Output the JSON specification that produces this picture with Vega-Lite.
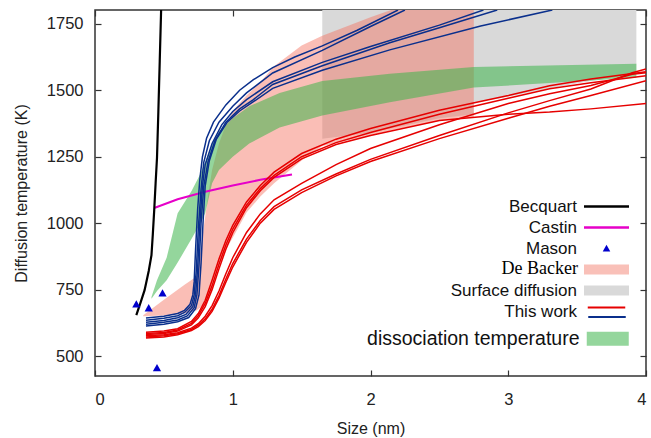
{
  "$schema": "https://vega.github.io/schema/vega-lite/v6.json",
  "width": 551,
  "height": 366,
  "autosize": "none",
  "padding": {"left": 95, "top": 10, "right": 5, "bottom": 62},
  "background": "white",
  "config": {
    "font": "Liberation Sans",
    "view": {"stroke": "#333333", "strokeWidth": 1.5},
    "axis": {
      "grid": false,
      "domain": false,
      "labelFont": "Liberation Sans",
      "labelFontSize": 16.5,
      "labelColor": "#222222",
      "tickColor": "#333333",
      "tickWidth": 1.2,
      "tickSize": -6,
      "titleFont": "Liberation Sans",
      "titleFontSize": 16,
      "titleFontWeight": "normal",
      "titleColor": "#222222"
    },
    "legend": {
      "orient": "none",
      "title": null,
      "padding": 0,
      "symbolSize": 225,
      "labelAlign": "right",
      "labelOffset": -38,
      "labelFont": "Liberation Sans",
      "labelFontSize": 17,
      "labelColor": "#111111",
      "labelLimit": 300,
      "rowPadding": 3,
      "symbolStrokeWidth": 0
    }
  },
  "datasets": {
    "bands": [
      {"band": "Surface diffusion", "size": 1.65, "lo": 1318, "hi": 1802},
      {"band": "Surface diffusion", "size": 2.0, "lo": 1340, "hi": 1802},
      {"band": "Surface diffusion", "size": 2.5, "lo": 1395, "hi": 1802},
      {"band": "Surface diffusion", "size": 2.749, "lo": 1410, "hi": 1802},
      {"band": "Surface diffusion", "size": 2.75, "lo": 1453, "hi": 1802},
      {"band": "Surface diffusion", "size": 3.0, "lo": 1476, "hi": 1802},
      {"band": "Surface diffusion", "size": 3.3, "lo": 1508, "hi": 1802},
      {"band": "Surface diffusion", "size": 3.6, "lo": 1535, "hi": 1802},
      {"band": "Surface diffusion", "size": 3.93, "lo": 1562, "hi": 1802},

      {"band": "De Backer", "size": 0.35, "lo": 650, "hi": 654},
      {"band": "De Backer", "size": 0.5, "lo": 653, "hi": 712},
      {"band": "De Backer", "size": 0.65, "lo": 660, "hi": 768},
      {"band": "De Backer", "size": 0.74, "lo": 672, "hi": 800},
      {"band": "De Backer", "size": 0.78, "lo": 688, "hi": 950},
      {"band": "De Backer", "size": 0.82, "lo": 725, "hi": 1100},
      {"band": "De Backer", "size": 0.85, "lo": 770, "hi": 1200},
      {"band": "De Backer", "size": 0.9, "lo": 840, "hi": 1300},
      {"band": "De Backer", "size": 0.95, "lo": 900, "hi": 1370},
      {"band": "De Backer", "size": 1.0, "lo": 945, "hi": 1420},
      {"band": "De Backer", "size": 1.03, "lo": 973, "hi": 1440},
      {"band": "De Backer", "size": 1.1, "lo": 1040, "hi": 1480},
      {"band": "De Backer", "size": 1.2, "lo": 1100, "hi": 1530},
      {"band": "De Backer", "size": 1.3, "lo": 1150, "hi": 1590},
      {"band": "De Backer", "size": 1.5, "lo": 1236, "hi": 1668},
      {"band": "De Backer", "size": 1.65, "lo": 1290, "hi": 1705},
      {"band": "De Backer", "size": 2.0, "lo": 1330, "hi": 1775},
      {"band": "De Backer", "size": 2.15, "lo": 1350, "hi": 1802},
      {"band": "De Backer", "size": 2.5, "lo": 1385, "hi": 1802},
      {"band": "De Backer", "size": 2.75, "lo": 1398, "hi": 1802},

      {"band": "dissociation temperature", "size": 0.41, "lo": 716, "hi": 722},
      {"band": "dissociation temperature", "size": 0.45, "lo": 745, "hi": 785},
      {"band": "dissociation temperature", "size": 0.52, "lo": 785, "hi": 870},
      {"band": "dissociation temperature", "size": 0.6, "lo": 852, "hi": 1037},
      {"band": "dissociation temperature", "size": 0.7, "lo": 940, "hi": 1120},
      {"band": "dissociation temperature", "size": 0.76, "lo": 995, "hi": 1180},
      {"band": "dissociation temperature", "size": 0.8, "lo": 1037, "hi": 1230},
      {"band": "dissociation temperature", "size": 0.85, "lo": 1150, "hi": 1300},
      {"band": "dissociation temperature", "size": 0.9, "lo": 1200, "hi": 1345},
      {"band": "dissociation temperature", "size": 1.0, "lo": 1250, "hi": 1395},
      {"band": "dissociation temperature", "size": 1.12, "lo": 1300, "hi": 1440},
      {"band": "dissociation temperature", "size": 1.34, "lo": 1360, "hi": 1490},
      {"band": "dissociation temperature", "size": 1.65, "lo": 1405, "hi": 1535},
      {"band": "dissociation temperature", "size": 2.14, "lo": 1455, "hi": 1562},
      {"band": "dissociation temperature", "size": 2.75, "lo": 1510, "hi": 1588},
      {"band": "dissociation temperature", "size": 3.93, "lo": 1547, "hi": 1600}
    ],
    "curves": [
      {"group": "Becquart", "curve": "K", "size": 0.30, "temp": 654},
      {"group": "Becquart", "curve": "K", "size": 0.33, "temp": 700},
      {"group": "Becquart", "curve": "K", "size": 0.36, "temp": 748},
      {"group": "Becquart", "curve": "K", "size": 0.39, "temp": 820},
      {"group": "Becquart", "curve": "K", "size": 0.41, "temp": 880},
      {"group": "Becquart", "curve": "K", "size": 0.42, "temp": 960},
      {"group": "Becquart", "curve": "K", "size": 0.43, "temp": 1050},
      {"group": "Becquart", "curve": "K", "size": 0.44, "temp": 1150},
      {"group": "Becquart", "curve": "K", "size": 0.45, "temp": 1245},
      {"group": "Becquart", "curve": "K", "size": 0.46, "temp": 1420},
      {"group": "Becquart", "curve": "K", "size": 0.47, "temp": 1610},
      {"group": "Becquart", "curve": "K", "size": 0.48, "temp": 1802},

      {"group": "Castin", "curve": "C", "size": 0.435, "temp": 1058},
      {"group": "Castin", "curve": "C", "size": 0.6, "temp": 1090},
      {"group": "Castin", "curve": "C", "size": 0.8, "temp": 1118},
      {"group": "Castin", "curve": "C", "size": 1.0, "temp": 1142},
      {"group": "Castin", "curve": "C", "size": 1.2, "temp": 1163},
      {"group": "Castin", "curve": "C", "size": 1.43, "temp": 1183},

      {"group": "red", "curve": "R1", "size": 0.37, "temp": 590},
      {"group": "red", "curve": "R1", "size": 0.5, "temp": 594},
      {"group": "red", "curve": "R1", "size": 0.6, "temp": 603},
      {"group": "red", "curve": "R1", "size": 0.7, "temp": 630},
      {"group": "red", "curve": "R1", "size": 0.75, "temp": 660},
      {"group": "red", "curve": "R1", "size": 0.8, "temp": 710},
      {"group": "red", "curve": "R1", "size": 0.85, "temp": 785},
      {"group": "red", "curve": "R1", "size": 0.9, "temp": 865},
      {"group": "red", "curve": "R1", "size": 0.95, "temp": 935},
      {"group": "red", "curve": "R1", "size": 1.0, "temp": 992},
      {"group": "red", "curve": "R1", "size": 1.1, "temp": 1080},
      {"group": "red", "curve": "R1", "size": 1.2, "temp": 1142},
      {"group": "red", "curve": "R1", "size": 1.3, "temp": 1192},
      {"group": "red", "curve": "R1", "size": 1.5, "temp": 1262},
      {"group": "red", "curve": "R1", "size": 1.75, "temp": 1316},
      {"group": "red", "curve": "R1", "size": 2.0, "temp": 1356},
      {"group": "red", "curve": "R1", "size": 2.5, "temp": 1425},
      {"group": "red", "curve": "R1", "size": 3.0, "temp": 1480},
      {"group": "red", "curve": "R1", "size": 3.3, "temp": 1517},
      {"group": "red", "curve": "R1", "size": 3.6, "temp": 1542},
      {"group": "red", "curve": "R1", "size": 4.0, "temp": 1570},

      {"group": "red", "curve": "R2", "size": 0.37, "temp": 585},
      {"group": "red", "curve": "R2", "size": 0.5, "temp": 589},
      {"group": "red", "curve": "R2", "size": 0.6, "temp": 598},
      {"group": "red", "curve": "R2", "size": 0.7, "temp": 623},
      {"group": "red", "curve": "R2", "size": 0.75, "temp": 652},
      {"group": "red", "curve": "R2", "size": 0.8, "temp": 698},
      {"group": "red", "curve": "R2", "size": 0.85, "temp": 765},
      {"group": "red", "curve": "R2", "size": 0.9, "temp": 845},
      {"group": "red", "curve": "R2", "size": 0.95, "temp": 918},
      {"group": "red", "curve": "R2", "size": 1.0, "temp": 978},
      {"group": "red", "curve": "R2", "size": 1.1, "temp": 1068},
      {"group": "red", "curve": "R2", "size": 1.2, "temp": 1130},
      {"group": "red", "curve": "R2", "size": 1.3, "temp": 1180},
      {"group": "red", "curve": "R2", "size": 1.5, "temp": 1250},
      {"group": "red", "curve": "R2", "size": 1.75, "temp": 1303},
      {"group": "red", "curve": "R2", "size": 2.0, "temp": 1341},
      {"group": "red", "curve": "R2", "size": 2.5, "temp": 1410},
      {"group": "red", "curve": "R2", "size": 3.0, "temp": 1470},
      {"group": "red", "curve": "R2", "size": 3.3, "temp": 1506},
      {"group": "red", "curve": "R2", "size": 3.6, "temp": 1528},
      {"group": "red", "curve": "R2", "size": 4.0, "temp": 1555},

      {"group": "red", "curve": "R3", "size": 0.37, "temp": 581},
      {"group": "red", "curve": "R3", "size": 0.5, "temp": 585},
      {"group": "red", "curve": "R3", "size": 0.6, "temp": 594},
      {"group": "red", "curve": "R3", "size": 0.7, "temp": 617},
      {"group": "red", "curve": "R3", "size": 0.75, "temp": 644},
      {"group": "red", "curve": "R3", "size": 0.8, "temp": 686},
      {"group": "red", "curve": "R3", "size": 0.85, "temp": 750},
      {"group": "red", "curve": "R3", "size": 0.9, "temp": 828},
      {"group": "red", "curve": "R3", "size": 0.95, "temp": 902},
      {"group": "red", "curve": "R3", "size": 1.0, "temp": 964},
      {"group": "red", "curve": "R3", "size": 1.1, "temp": 1058},
      {"group": "red", "curve": "R3", "size": 1.2, "temp": 1122},
      {"group": "red", "curve": "R3", "size": 1.3, "temp": 1172},
      {"group": "red", "curve": "R3", "size": 1.5, "temp": 1242},
      {"group": "red", "curve": "R3", "size": 1.75, "temp": 1296},
      {"group": "red", "curve": "R3", "size": 2.0, "temp": 1330},
      {"group": "red", "curve": "R3", "size": 2.5, "temp": 1386},
      {"group": "red", "curve": "R3", "size": 3.0, "temp": 1410},
      {"group": "red", "curve": "R3", "size": 3.3, "temp": 1418},
      {"group": "red", "curve": "R3", "size": 3.6, "temp": 1430},
      {"group": "red", "curve": "R3", "size": 4.0, "temp": 1450},

      {"group": "red", "curve": "R4", "size": 0.37, "temp": 576},
      {"group": "red", "curve": "R4", "size": 0.5, "temp": 580},
      {"group": "red", "curve": "R4", "size": 0.6, "temp": 588},
      {"group": "red", "curve": "R4", "size": 0.7, "temp": 605},
      {"group": "red", "curve": "R4", "size": 0.75, "temp": 622},
      {"group": "red", "curve": "R4", "size": 0.8, "temp": 650},
      {"group": "red", "curve": "R4", "size": 0.85, "temp": 690},
      {"group": "red", "curve": "R4", "size": 0.9, "temp": 745},
      {"group": "red", "curve": "R4", "size": 0.95, "temp": 810},
      {"group": "red", "curve": "R4", "size": 1.0, "temp": 870},
      {"group": "red", "curve": "R4", "size": 1.1, "temp": 965},
      {"group": "red", "curve": "R4", "size": 1.2, "temp": 1035},
      {"group": "red", "curve": "R4", "size": 1.3, "temp": 1088},
      {"group": "red", "curve": "R4", "size": 1.5, "temp": 1150},
      {"group": "red", "curve": "R4", "size": 1.75, "temp": 1220},
      {"group": "red", "curve": "R4", "size": 2.0, "temp": 1281},
      {"group": "red", "curve": "R4", "size": 2.5, "temp": 1370},
      {"group": "red", "curve": "R4", "size": 3.0, "temp": 1450},
      {"group": "red", "curve": "R4", "size": 3.3, "temp": 1487},
      {"group": "red", "curve": "R4", "size": 3.6, "temp": 1518},
      {"group": "red", "curve": "R4", "size": 3.9, "temp": 1560},
      {"group": "red", "curve": "R4", "size": 4.0, "temp": 1566},

      {"group": "red", "curve": "R5", "size": 0.37, "temp": 572},
      {"group": "red", "curve": "R5", "size": 0.5, "temp": 576},
      {"group": "red", "curve": "R5", "size": 0.6, "temp": 584},
      {"group": "red", "curve": "R5", "size": 0.7, "temp": 600},
      {"group": "red", "curve": "R5", "size": 0.75, "temp": 616},
      {"group": "red", "curve": "R5", "size": 0.8, "temp": 640},
      {"group": "red", "curve": "R5", "size": 0.85, "temp": 676},
      {"group": "red", "curve": "R5", "size": 0.9, "temp": 728},
      {"group": "red", "curve": "R5", "size": 0.95, "temp": 790},
      {"group": "red", "curve": "R5", "size": 1.0, "temp": 848},
      {"group": "red", "curve": "R5", "size": 1.1, "temp": 940},
      {"group": "red", "curve": "R5", "size": 1.2, "temp": 1010},
      {"group": "red", "curve": "R5", "size": 1.3, "temp": 1062},
      {"group": "red", "curve": "R5", "size": 1.5, "temp": 1125},
      {"group": "red", "curve": "R5", "size": 1.75, "temp": 1185},
      {"group": "red", "curve": "R5", "size": 2.0, "temp": 1240},
      {"group": "red", "curve": "R5", "size": 2.5, "temp": 1330},
      {"group": "red", "curve": "R5", "size": 3.0, "temp": 1415},
      {"group": "red", "curve": "R5", "size": 3.3, "temp": 1461},
      {"group": "red", "curve": "R5", "size": 3.6, "temp": 1505},
      {"group": "red", "curve": "R5", "size": 3.9, "temp": 1566},
      {"group": "red", "curve": "R5", "size": 4.0, "temp": 1580},

      {"group": "red", "curve": "R6", "size": 0.37, "temp": 568},
      {"group": "red", "curve": "R6", "size": 0.5, "temp": 572},
      {"group": "red", "curve": "R6", "size": 0.6, "temp": 580},
      {"group": "red", "curve": "R6", "size": 0.7, "temp": 596},
      {"group": "red", "curve": "R6", "size": 0.75, "temp": 611},
      {"group": "red", "curve": "R6", "size": 0.8, "temp": 634},
      {"group": "red", "curve": "R6", "size": 0.85, "temp": 668},
      {"group": "red", "curve": "R6", "size": 0.9, "temp": 718},
      {"group": "red", "curve": "R6", "size": 0.95, "temp": 778},
      {"group": "red", "curve": "R6", "size": 1.0, "temp": 835},
      {"group": "red", "curve": "R6", "size": 1.1, "temp": 928},
      {"group": "red", "curve": "R6", "size": 1.2, "temp": 1000},
      {"group": "red", "curve": "R6", "size": 1.3, "temp": 1052},
      {"group": "red", "curve": "R6", "size": 1.5, "temp": 1115},
      {"group": "red", "curve": "R6", "size": 1.75, "temp": 1178},
      {"group": "red", "curve": "R6", "size": 2.0, "temp": 1232},
      {"group": "red", "curve": "R6", "size": 2.5, "temp": 1318},
      {"group": "red", "curve": "R6", "size": 3.0, "temp": 1395},
      {"group": "red", "curve": "R6", "size": 3.3, "temp": 1440},
      {"group": "red", "curve": "R6", "size": 3.6, "temp": 1480},
      {"group": "red", "curve": "R6", "size": 4.0, "temp": 1536},

      {"group": "blue", "curve": "B1", "size": 0.37, "temp": 643},
      {"group": "blue", "curve": "B1", "size": 0.5, "temp": 650},
      {"group": "blue", "curve": "B1", "size": 0.6, "temp": 660},
      {"group": "blue", "curve": "B1", "size": 0.65, "temp": 672},
      {"group": "blue", "curve": "B1", "size": 0.69, "temp": 695},
      {"group": "blue", "curve": "B1", "size": 0.71, "temp": 730},
      {"group": "blue", "curve": "B1", "size": 0.72, "temp": 780},
      {"group": "blue", "curve": "B1", "size": 0.73, "temp": 900},
      {"group": "blue", "curve": "B1", "size": 0.745, "temp": 1050},
      {"group": "blue", "curve": "B1", "size": 0.76, "temp": 1160},
      {"group": "blue", "curve": "B1", "size": 0.78, "temp": 1250},
      {"group": "blue", "curve": "B1", "size": 0.81, "temp": 1320},
      {"group": "blue", "curve": "B1", "size": 0.86, "temp": 1380},
      {"group": "blue", "curve": "B1", "size": 0.95, "temp": 1445},
      {"group": "blue", "curve": "B1", "size": 1.05, "temp": 1500},
      {"group": "blue", "curve": "B1", "size": 1.15, "temp": 1540},
      {"group": "blue", "curve": "B1", "size": 1.29, "temp": 1585},
      {"group": "blue", "curve": "B1", "size": 1.45, "temp": 1625},
      {"group": "blue", "curve": "B1", "size": 1.65, "temp": 1667},
      {"group": "blue", "curve": "B1", "size": 1.9, "temp": 1725},
      {"group": "blue", "curve": "B1", "size": 2.2, "temp": 1802},

      {"group": "blue", "curve": "B2", "size": 0.37, "temp": 635},
      {"group": "blue", "curve": "B2", "size": 0.5, "temp": 642},
      {"group": "blue", "curve": "B2", "size": 0.6, "temp": 652},
      {"group": "blue", "curve": "B2", "size": 0.65, "temp": 664},
      {"group": "blue", "curve": "B2", "size": 0.7, "temp": 690},
      {"group": "blue", "curve": "B2", "size": 0.72, "temp": 730},
      {"group": "blue", "curve": "B2", "size": 0.735, "temp": 820},
      {"group": "blue", "curve": "B2", "size": 0.75, "temp": 980},
      {"group": "blue", "curve": "B2", "size": 0.77, "temp": 1130},
      {"group": "blue", "curve": "B2", "size": 0.79, "temp": 1230},
      {"group": "blue", "curve": "B2", "size": 0.83, "temp": 1310},
      {"group": "blue", "curve": "B2", "size": 0.9, "temp": 1380},
      {"group": "blue", "curve": "B2", "size": 1.0, "temp": 1440},
      {"group": "blue", "curve": "B2", "size": 1.1, "temp": 1490},
      {"group": "blue", "curve": "B2", "size": 1.29, "temp": 1565},
      {"group": "blue", "curve": "B2", "size": 1.65, "temp": 1650},
      {"group": "blue", "curve": "B2", "size": 2.0, "temp": 1740},
      {"group": "blue", "curve": "B2", "size": 2.25, "temp": 1802},

      {"group": "blue", "curve": "B3", "size": 0.37, "temp": 627},
      {"group": "blue", "curve": "B3", "size": 0.5, "temp": 634},
      {"group": "blue", "curve": "B3", "size": 0.6, "temp": 644},
      {"group": "blue", "curve": "B3", "size": 0.66, "temp": 657},
      {"group": "blue", "curve": "B3", "size": 0.71, "temp": 686},
      {"group": "blue", "curve": "B3", "size": 0.73, "temp": 730},
      {"group": "blue", "curve": "B3", "size": 0.745, "temp": 830},
      {"group": "blue", "curve": "B3", "size": 0.76, "temp": 990},
      {"group": "blue", "curve": "B3", "size": 0.78, "temp": 1140},
      {"group": "blue", "curve": "B3", "size": 0.8, "temp": 1220},
      {"group": "blue", "curve": "B3", "size": 0.85, "temp": 1300},
      {"group": "blue", "curve": "B3", "size": 0.92, "temp": 1370},
      {"group": "blue", "curve": "B3", "size": 1.0, "temp": 1420},
      {"group": "blue", "curve": "B3", "size": 1.1, "temp": 1465},
      {"group": "blue", "curve": "B3", "size": 1.29, "temp": 1532},
      {"group": "blue", "curve": "B3", "size": 1.65, "temp": 1605},
      {"group": "blue", "curve": "B3", "size": 2.0, "temp": 1665},
      {"group": "blue", "curve": "B3", "size": 2.5, "temp": 1745},
      {"group": "blue", "curve": "B3", "size": 2.82, "temp": 1802},

      {"group": "blue", "curve": "B4", "size": 0.37, "temp": 620},
      {"group": "blue", "curve": "B4", "size": 0.5, "temp": 627},
      {"group": "blue", "curve": "B4", "size": 0.6, "temp": 636},
      {"group": "blue", "curve": "B4", "size": 0.67, "temp": 651},
      {"group": "blue", "curve": "B4", "size": 0.72, "temp": 682},
      {"group": "blue", "curve": "B4", "size": 0.74, "temp": 730},
      {"group": "blue", "curve": "B4", "size": 0.755, "temp": 840},
      {"group": "blue", "curve": "B4", "size": 0.77, "temp": 1000},
      {"group": "blue", "curve": "B4", "size": 0.79, "temp": 1140},
      {"group": "blue", "curve": "B4", "size": 0.82, "temp": 1230},
      {"group": "blue", "curve": "B4", "size": 0.87, "temp": 1310},
      {"group": "blue", "curve": "B4", "size": 0.95, "temp": 1380},
      {"group": "blue", "curve": "B4", "size": 1.05, "temp": 1430},
      {"group": "blue", "curve": "B4", "size": 1.15, "temp": 1465},
      {"group": "blue", "curve": "B4", "size": 1.29, "temp": 1522},
      {"group": "blue", "curve": "B4", "size": 1.65, "temp": 1592},
      {"group": "blue", "curve": "B4", "size": 2.14, "temp": 1679},
      {"group": "blue", "curve": "B4", "size": 2.5, "temp": 1735},
      {"group": "blue", "curve": "B4", "size": 2.92, "temp": 1802},

      {"group": "blue", "curve": "B5", "size": 0.37, "temp": 613},
      {"group": "blue", "curve": "B5", "size": 0.5, "temp": 620},
      {"group": "blue", "curve": "B5", "size": 0.6, "temp": 629},
      {"group": "blue", "curve": "B5", "size": 0.68, "temp": 645},
      {"group": "blue", "curve": "B5", "size": 0.73, "temp": 678},
      {"group": "blue", "curve": "B5", "size": 0.755, "temp": 730},
      {"group": "blue", "curve": "B5", "size": 0.77, "temp": 850},
      {"group": "blue", "curve": "B5", "size": 0.785, "temp": 1010},
      {"group": "blue", "curve": "B5", "size": 0.8, "temp": 1140},
      {"group": "blue", "curve": "B5", "size": 0.83, "temp": 1235},
      {"group": "blue", "curve": "B5", "size": 0.88, "temp": 1315},
      {"group": "blue", "curve": "B5", "size": 0.96, "temp": 1380},
      {"group": "blue", "curve": "B5", "size": 1.05, "temp": 1422},
      {"group": "blue", "curve": "B5", "size": 1.15, "temp": 1457},
      {"group": "blue", "curve": "B5", "size": 1.29, "temp": 1507},
      {"group": "blue", "curve": "B5", "size": 1.65, "temp": 1575},
      {"group": "blue", "curve": "B5", "size": 2.14, "temp": 1652},
      {"group": "blue", "curve": "B5", "size": 2.8, "temp": 1742},
      {"group": "blue", "curve": "B5", "size": 3.32, "temp": 1802}
    ],
    "mason": [
      {"series": "Mason", "size": 0.30, "temp": 695},
      {"series": "Mason", "size": 0.39, "temp": 680},
      {"series": "Mason", "size": 0.49, "temp": 736},
      {"series": "Mason", "size": 0.45, "temp": 455}
    ]
  },
  "resolve": {"axis": {"x": "independent", "y": "independent"}, "scale": {"fill": "independent"}},
  "layer": [
    {
      "data": {"name": "bands"},
      "transform": [{"filter": "datum.band === 'Surface diffusion'"}],
      "mark": {"type": "area", "color": "#d9d9d9", "opacity": 1},
      "encoding": {
        "x": {"field": "size", "type": "quantitative", "scale": {"domain": [0, 4], "nice": false, "zero": false},
              "axis": {"orient": "top", "labels": false, "title": null, "values": [0, 1, 2, 3, 4]}},
        "y": {"field": "lo", "type": "quantitative", "scale": {"domain": [425, 1802], "nice": false, "zero": false},
              "axis": {"orient": "right", "labels": false, "title": null, "values": [500, 750, 1000, 1250, 1500, 1750]}},
        "y2": {"field": "hi"}
      }
    },
    {
      "data": {"name": "bands"},
      "transform": [{"filter": "datum.band === 'De Backer'"}],
      "mark": {"type": "area", "opacity": 0.45},
      "encoding": {
        "x": {"field": "size", "type": "quantitative",
              "axis": {"orient": "bottom", "title": "Size (nm)", "values": [0, 1, 2, 3, 4], "format": "d", "labelPadding": 21, "titlePadding": 13}},
        "y": {"field": "lo", "type": "quantitative",
              "axis": {"orient": "left", "title": "Diffusion temperature (K)", "values": [500, 750, 1000, 1250, 1500, 1750], "format": "d", "labelPadding": 18, "titlePadding": 17}},
        "y2": {"field": "hi"},
        "fill": {
          "field": "band", "type": "nominal",
          "scale": {"domain": ["De Backer"], "range": ["#f46f5d"]},
          "legend": {"legendX": 503, "legendY": 250, "labelFont": "Liberation Serif", "labelFontSize": 18, "labelColor": "#000000", "symbolType": "M0,0Z"}
        }
      }
    },
    {
      "data": {"name": "bands"},
      "transform": [{"filter": "datum.band === 'dissociation temperature'"}],
      "mark": {"type": "area", "opacity": 0.55},
      "encoding": {
        "x": {"field": "size", "type": "quantitative", "axis": null},
        "y": {"field": "lo", "type": "quantitative", "axis": null},
        "y2": {"field": "hi"},
        "fill": {
          "field": "band", "type": "nominal",
          "scale": {"domain": ["dissociation temperature"], "range": ["#3cb44b"]},
          "legend": {"legendX": 503, "legendY": 319, "labelFontSize": 19.5, "symbolType": "M-2.8,-0.93H2.8V0.93H-2.8Z"}
        }
      }
    },
    {
      "data": {"name": "curves"},
      "transform": [{"filter": "datum.group === 'Castin'"}],
      "mark": {"type": "line", "color": "#e600c8", "strokeWidth": 2, "clip": true},
      "encoding": {
        "x": {"field": "size", "type": "quantitative", "axis": null},
        "y": {"field": "temp", "type": "quantitative", "axis": null}
      }
    },
    {
      "data": {"name": "curves"},
      "transform": [{"filter": "datum.group === 'red'"}],
      "mark": {"type": "line", "color": "#e60000", "strokeWidth": 1.5, "clip": true},
      "encoding": {
        "x": {"field": "size", "type": "quantitative", "axis": null},
        "y": {"field": "temp", "type": "quantitative", "axis": null},
        "detail": {"field": "curve", "type": "nominal"}
      }
    },
    {
      "data": {"name": "curves"},
      "transform": [{"filter": "datum.group === 'blue'"}],
      "mark": {"type": "line", "strokeWidth": 1.5, "clip": true},
      "encoding": {
        "x": {"field": "size", "type": "quantitative", "axis": null},
        "y": {"field": "temp", "type": "quantitative", "axis": null},
        "detail": {"field": "curve", "type": "nominal"},
        "stroke": {
          "field": "group", "type": "nominal",
          "scale": {"domain": ["blue"], "range": ["#0a2f8c"]},
          "legend": {"legendX": 503, "legendY": 294, "labelExpr": "''", "symbolType": "M-2.5,0.53H2.5", "symbolStrokeWidth": 2.2, "labelFontSize": 15}
        }
      }
    },
    {
      "data": {"name": "curves"},
      "transform": [{"filter": "datum.group === 'Becquart'"}],
      "mark": {"type": "line", "color": "#000000", "strokeWidth": 2.2, "clip": true},
      "encoding": {
        "x": {"field": "size", "type": "quantitative", "axis": null},
        "y": {"field": "temp", "type": "quantitative", "axis": null}
      }
    },
    {
      "data": {"name": "mason"},
      "mark": {"type": "point", "filled": true, "opacity": 1, "size": 270, "clip": true},
      "encoding": {
        "x": {"field": "size", "type": "quantitative", "axis": null},
        "y": {"field": "temp", "type": "quantitative", "axis": null},
        "color": {
          "field": "series", "type": "nominal",
          "scale": {
            "domain": ["Becquart", "Castin", "Mason", "De Backer", "Surface diffusion", "This work"],
            "range": ["#000000", "#e600c8", "#0000cc", "#f9c0b8", "#d9d9d9", "#e60000"]
          },
          "legend": {"legendX": 503, "legendY": 188, "labelExpr": "datum.label === 'De Backer' ? ' ' : datum.label"}
        },
        "shape": {
          "field": "series", "type": "nominal",
          "scale": {
            "domain": ["Becquart", "Castin", "Mason", "De Backer", "Surface diffusion", "This work"],
            "range": [
              "M-3,-0.17H3V0.17H-3Z",
              "M-3,-0.17H3V0.17H-3Z",
              "M0,-0.5L0.5,0.4H-0.5Z",
              "M-3,-0.67H3V0.67H-3Z",
              "M-3,-0.67H3V0.67H-3Z",
              "M-2.5,-0.67H2.5V-0.4H-2.5Z"
            ]
          },
          "legend": {"legendX": 503, "legendY": 188, "labelExpr": "datum.label === 'De Backer' ? ' ' : datum.label"}
        }
      }
    }
  ]
}
